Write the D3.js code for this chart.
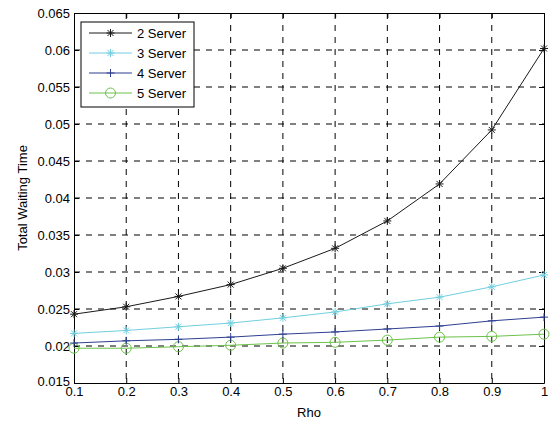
<!DOCTYPE html>
<html>
<head>
<meta charset="utf-8">
<script src="https://cdn.jsdelivr.net/npm/d3@7"></script>
<style>
    body { margin: 0; background: #fff; }
    text { font-family: "Liberation Sans", Arial, sans-serif; fill: #000; }
</style>
</head>
<body>
<script>
(function(){

    //data
    var rho = [0.1, 0.2, 0.3, 0.4, 0.5, 0.6, 0.7, 0.8, 0.9, 1.0];
    var server2 = [0.0243, 0.0253, 0.0267, 0.0283, 0.0305, 0.0332, 0.0369, 0.0419, 0.0492, 0.0602];
    var server3 = [0.0217, 0.0221, 0.0226, 0.0231, 0.0238, 0.0246, 0.0257, 0.0266, 0.0280, 0.0296];
    var server4 = [0.0204, 0.0207, 0.0209, 0.0212, 0.0216, 0.0219, 0.0223, 0.0227, 0.0234, 0.0239];
    var server5 = [0.0197, 0.0197, 0.0199, 0.0201, 0.0204, 0.0205, 0.0208, 0.0212, 0.0213, 0.0216];
    var seriesNames = ["2 Server", "3 Server", "4 Server", "5 Server"];
    var xTicks = [0.1, 0.2, 0.3, 0.4, 0.5, 0.6, 0.7, 0.8, 0.9, 1];
    var yTicks = [0.015, 0.02, 0.025, 0.03, 0.035, 0.04, 0.045, 0.05, 0.055, 0.06, 0.065];

    var series = [
        {name: seriesNames[0], values: server2, color: "#1a1a1a", marker: "star"},
        {name: seriesNames[1], values: server3, color: "#72cfdf", marker: "star"},
        {name: seriesNames[2], values: server4, color: "#2e3f91", marker: "plus"},
        {name: seriesNames[3], values: server5, color: "#6cc24a", marker: "circle"}
    ];

    var width = 552, height = 424;
    var left = 74, right = 544, top = 13, bottom = 383;
    var fontSize = "13px";

    var svg = d3.select("body").append("svg")
        .attr("width", width)
        .attr("height", height);

    var x = d3.scaleLinear().domain([0.1, 1]).range([left, right]);
    var y = d3.scaleLinear().domain([0.015, 0.065]).range([bottom, top]);

    //grid lines
    svg.append("g").selectAll("line")
        .data(xTicks.slice(1, -1))
        .enter().append("line")
        .attr("x1", function(d){ return x(d); })
        .attr("x2", function(d){ return x(d); })
        .attr("y1", top).attr("y2", bottom)
        .attr("stroke", "#000").attr("stroke-width", 1)
        .attr("stroke-dasharray", "6,6");

    svg.append("g").selectAll("line")
        .data(yTicks.slice(1, -1))
        .enter().append("line")
        .attr("y1", function(d){ return y(d); })
        .attr("y2", function(d){ return y(d); })
        .attr("x1", left).attr("x2", right)
        .attr("stroke", "#000").attr("stroke-width", 1)
        .attr("stroke-dasharray", "6,6");

    //axes with inward ticks
    var xAxis = svg.append("g")
        .attr("transform", "translate(0," + bottom + ")")
        .call(d3.axisBottom(x).tickValues(xTicks).tickSizeInner(-5).tickSizeOuter(0)
            .tickPadding(4).tickFormat(d3.format("")));
    var yAxis = svg.append("g")
        .attr("transform", "translate(" + left + ",0)")
        .call(d3.axisLeft(y).tickValues(yTicks).tickSizeInner(-5).tickSizeOuter(0)
            .tickPadding(4).tickFormat(d3.format("")));
    svg.append("g")
        .attr("transform", "translate(0," + top + ")")
        .call(d3.axisTop(x).tickValues(xTicks).tickSizeInner(-5).tickSizeOuter(0).tickFormat(""));
    svg.append("g")
        .attr("transform", "translate(" + right + ",0)")
        .call(d3.axisRight(y).tickValues(yTicks).tickSizeInner(-5).tickSizeOuter(0).tickFormat(""));

    svg.selectAll(".domain, .tick line").attr("stroke", "#000");
    xAxis.selectAll("text").attr("font-size", fontSize)
        .style("font-family", "'Liberation Sans', Arial, sans-serif");
    yAxis.selectAll("text").attr("font-size", fontSize)
        .style("font-family", "'Liberation Sans', Arial, sans-serif");
    //lift the lowest y label a little so it clears the x labels
    yAxis.selectAll(".tick text").filter(function(d){ return d == 0.015; })
        .attr("y", -2);

    //axis titles
    svg.append("text")
        .attr("x", (left + right) / 2).attr("y", 417)
        .attr("text-anchor", "middle")
        .attr("font-size", fontSize)
        .text("Rho");
    svg.append("text")
        .attr("transform", "translate(27," + ((top + bottom) / 2) + ") rotate(-90)")
        .attr("text-anchor", "middle")
        .attr("font-size", fontSize)
        .text("Total Waiting Time");

    //marker drawing helper
    function drawMarker(g, cx, cy, type, color){
        if (type == "circle"){
            g.append("circle").attr("cx", cx).attr("cy", cy).attr("r", 5)
                .attr("fill", "none").attr("stroke", color).attr("stroke-width", 1);
        } else {
            var s = 4;
            var segs = [[-s, 0, s, 0], [0, -s, 0, s]];
            if (type == "star"){
                segs.push([-s * 0.75, -s * 0.75, s * 0.75, s * 0.75]);
                segs.push([-s * 0.75, s * 0.75, s * 0.75, -s * 0.75]);
            }
            segs.forEach(function(p){
                g.append("line")
                    .attr("x1", cx + p[0]).attr("y1", cy + p[1])
                    .attr("x2", cx + p[2]).attr("y2", cy + p[3])
                    .attr("stroke", color).attr("stroke-width", 1);
            });
        }
    }

    var line = d3.line()
        .x(function(d, i){ return x(rho[i]); })
        .y(function(d){ return y(d); });

    //draw series back to front
    series.slice().reverse().forEach(function(s){
        var g = svg.append("g");
        g.append("path")
            .datum(s.values)
            .attr("d", line)
            .attr("fill", "none")
            .attr("stroke", s.color)
            .attr("stroke-width", 1);
        s.values.forEach(function(v, i){
            drawMarker(g, x(rho[i]), y(v), s.marker, s.color);
        });
    });

    //legend
    var legend = svg.append("g");
    legend.append("rect")
        .attr("x", 81).attr("y", 22)
        .attr("width", 113).attr("height", 85)
        .attr("fill", "#fff").attr("stroke", "#000");
    series.forEach(function(s, i){
        var ly = 33 + i * 20;
        legend.append("line")
            .attr("x1", 89).attr("x2", 132)
            .attr("y1", ly).attr("y2", ly)
            .attr("stroke", s.color).attr("stroke-width", 1);
        drawMarker(legend, 110.5, ly, s.marker, s.color);
        legend.append("text")
            .attr("x", 137).attr("y", ly)
            .attr("dy", "0.35em")
            .attr("font-size", fontSize)
            .text(s.name);
    });

})();
</script>
</body>
</html>
